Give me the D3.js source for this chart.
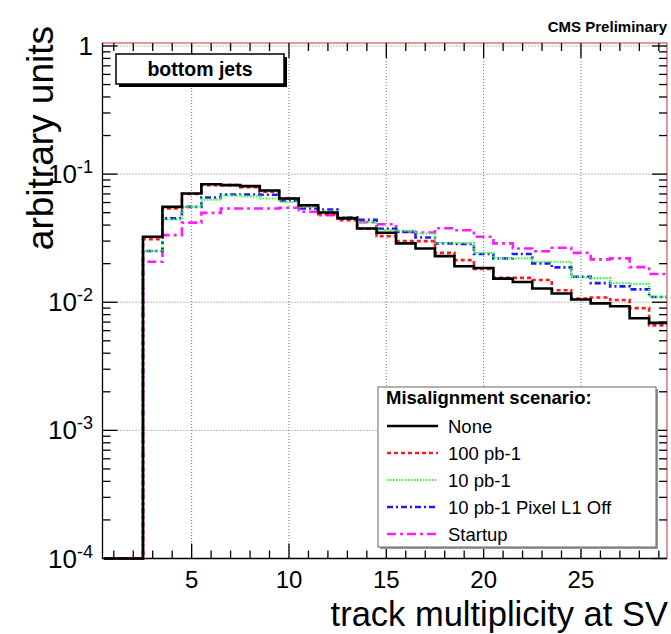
<!DOCTYPE html>
<html>
<head>
<meta charset="utf-8">
<script src="https://cdn.jsdelivr.net/npm/d3@7"></script>
<style>
  body { margin: 0; background: #fff; }
  svg { display: block; font-family: 'Liberation Sans', Arial, sans-serif; }
</style>
</head>
<body>
<svg id="chart" width="671" height="634"></svg>
<script>
// track multiplicity bins (centres), width 1
const bins = [1, 2, 3, 4, 5, 6, 7, 8, 9, 10, 11, 12, 13, 14, 15, 16, 17, 18, 19, 20, 21, 22, 23, 24, 25, 26, 27, 28, 29];

const none = [0, 0, 0.0324, 0.0555, 0.0706, 0.0834, 0.0820, 0.0806, 0.0745, 0.0645, 0.0572, 0.0501, 0.0451, 0.0376, 0.0349, 0.0288, 0.0263, 0.0229, 0.0191, 0.0185, 0.0153, 0.0144, 0.0128, 0.0117, 0.0105, 0.0098, 0.0093, 0.0075, 0.0069];
const pb100 = [0, 0, 0.0310, 0.0540, 0.0700, 0.0820, 0.0820, 0.0790, 0.0730, 0.0645, 0.0570, 0.0487, 0.0437, 0.0375, 0.0328, 0.0300, 0.0300, 0.0243, 0.0213, 0.0182, 0.0155, 0.0155, 0.0149, 0.0124, 0.0107, 0.0109, 0.0104, 0.0090, 0.0066];
const pb10 = [0, 0, 0.0251, 0.0443, 0.0555, 0.0633, 0.0683, 0.0671, 0.0645, 0.0607, 0.0555, 0.0509, 0.0459, 0.0422, 0.0366, 0.0360, 0.0344, 0.0290, 0.0290, 0.0243, 0.0220, 0.0220, 0.0207, 0.0207, 0.0157, 0.0154, 0.0141, 0.0139, 0.0110];
const pb10L1off = [0, 0, 0.0251, 0.0451, 0.0555, 0.0657, 0.0693, 0.0693, 0.0690, 0.0620, 0.0539, 0.0530, 0.0460, 0.0440, 0.0375, 0.0354, 0.0320, 0.0288, 0.0285, 0.0238, 0.0220, 0.0238, 0.0201, 0.0187, 0.0158, 0.0141, 0.0133, 0.0126, 0.0110];
const startup = [0, 0, 0.0207, 0.0334, 0.0418, 0.0498, 0.0539, 0.0539, 0.0539, 0.0547, 0.0509, 0.0478, 0.0459, 0.0422, 0.0406, 0.0354, 0.0350, 0.0378, 0.0365, 0.0324, 0.0288, 0.0263, 0.0250, 0.0266, 0.0243, 0.0216, 0.0220, 0.0188, 0.0166];

const xTicks = [5, 10, 15, 20, 25];
const yTicks = [1e-4, 1e-3, 1e-2, 1e-1, 1];
const yTickLabels = [['10', '-4'], ['10', '-3'], ['10', '-2'], ['10', '-1'], ['1', '']];

const series = [
  { name: 'None', values: none, color: '#000', width: 2.6, dash: null },
  { name: '100 pb-1', values: pb100, color: '#ff1a1a', width: 2.6, dash: '4,3' },
  { name: '10 pb-1', values: pb10, color: '#33ff33', width: 2.2, dash: '1.5,1.5' },
  { name: '10 pb-1 Pixel L1 Off', values: pb10L1off, color: '#1a1aff', width: 2.6, dash: '6,3,2,3' },
  { name: 'Startup', values: startup, color: '#ff1aff', width: 2.6, dash: '9,4,3,4' }
];

const style = {
  frameColor: '#d03030',
  gridColor: '#777',
  gridDash: '1,2',
  majorTick: 15,
  minorTick: 8
};

const svg = d3.select('#chart');
const frame = { left: 102.5, right: 667, top: 43, bottom: 558.5 };

const xScale = d3.scaleLinear().domain([0.42, 29.42]).range([frame.left, frame.right]);
const yScale = d3.scaleLog().domain([1e-4, 1.055]).range([frame.bottom, frame.top]);

svg.append('defs').append('clipPath').attr('id', 'clip')
  .append('rect')
  .attr('x', frame.left).attr('y', frame.top)
  .attr('width', frame.right - frame.left).attr('height', frame.bottom - frame.top + 3);

// grid
const grid = svg.append('g').attr('class', 'grid');
grid.selectAll('line.gx').data(xTicks).enter().append('line')
  .attr('x1', d => xScale(d)).attr('x2', d => xScale(d))
  .attr('y1', frame.top).attr('y2', frame.bottom)
  .attr('stroke', style.gridColor).attr('stroke-dasharray', style.gridDash).attr('stroke-width', 1);
grid.selectAll('line.gy').data(yTicks.slice(1)).enter().append('line')
  .attr('y1', d => yScale(d)).attr('y2', d => yScale(d))
  .attr('x1', frame.left).attr('x2', frame.right)
  .attr('stroke', style.gridColor).attr('stroke-dasharray', style.gridDash).attr('stroke-width', 1);

// frame
svg.append('rect')
  .attr('x', frame.left).attr('y', frame.top)
  .attr('width', frame.right - frame.left).attr('height', frame.bottom - frame.top)
  .attr('fill', 'none').attr('stroke', style.frameColor).attr('stroke-width', 1);

const axes = svg.append('g').attr('stroke', '#000').attr('stroke-width', 1.3);
axes.append('line').attr('x1', frame.left).attr('x2', frame.left).attr('y1', frame.top).attr('y2', frame.bottom);
axes.append('line').attr('x1', frame.left).attr('x2', frame.right).attr('y1', frame.bottom).attr('y2', frame.bottom);

// histograms
const ymin = yScale.domain()[0];
const stepLine = d3.line()
  .curve(d3.curveStepAfter)
  .x(d => xScale(d[0]))
  .y(d => yScale(Math.max(d[1], ymin)));

function histPoints(values) {
  const pts = bins.map((b, i) => [b - 0.5, values[i]]);
  pts.push([bins[bins.length - 1] + 0.5, values[values.length - 1]]);
  return pts;
}

const hists = svg.append('g').attr('clip-path', 'url(#clip)');
series.slice().reverse().forEach(s => {
  hists.append('path')
    .attr('d', stepLine(histPoints(s.values)))
    .attr('fill', 'none')
    .attr('stroke', s.color)
    .attr('stroke-width', s.width)
    .attr('stroke-dasharray', s.dash);
});

// x ticks, bottom and top
bins.forEach(v => {
  const len = xTicks.includes(v) ? style.majorTick : style.minorTick;
  const x = xScale(v);
  axes.append('line').attr('x1', x).attr('x2', x).attr('y1', frame.bottom).attr('y2', frame.bottom - len);
  axes.append('line').attr('x1', x).attr('x2', x).attr('y1', frame.top).attr('y2', frame.top + len);
});

// y ticks, left and right
const yMinor = [];
[1e-4, 1e-3, 1e-2, 1e-1].forEach(dec => {
  [2, 3, 4, 5, 6, 7, 8, 9].forEach(m => yMinor.push(dec * m));
});
yMinor.concat(yTicks).forEach(v => {
  const len = yTicks.includes(v) ? style.majorTick : style.minorTick;
  const y = yScale(v);
  axes.append('line').attr('x1', frame.left).attr('x2', frame.left + len).attr('y1', y).attr('y2', y);
  axes.append('line').attr('x1', frame.right).attr('x2', frame.right - len).attr('y1', y).attr('y2', y);
});
svg.node().appendChild(axes.node());

// tick labels
svg.append('g').selectAll('text').data(xTicks).enter().append('text')
  .attr('x', d => xScale(d)).attr('y', 588)
  .attr('text-anchor', 'middle').attr('font-size', 24).attr('fill', '#000')
  .text(d => d);

const yl = svg.append('g');
yTicks.forEach((v, i) => {
  const t = yl.append('text')
    .attr('x', 93).attr('y', yScale(v) + 9)
    .attr('text-anchor', 'end').attr('font-size', 26).attr('fill', '#000');
  t.append('tspan').text(yTickLabels[i][0]);
  if (yTickLabels[i][1]) {
    t.append('tspan').attr('dy', -10).attr('font-size', 18).text(yTickLabels[i][1]);
  }
});

// axis titles
svg.append('text')
  .attr('x', 668).attr('y', 626)
  .attr('text-anchor', 'end').attr('font-size', 34.5).attr('fill', '#000')
  .text('track multiplicity at SV');

svg.append('text')
  .attr('transform', 'translate(53, 26) rotate(-90)')
  .attr('text-anchor', 'end').attr('font-size', 37).attr('fill', '#000')
  .text('arbitrary units');

svg.append('text')
  .attr('x', 667).attr('y', 32)
  .attr('text-anchor', 'end').attr('font-size', 15).attr('font-weight', 'bold').attr('fill', '#000')
  .text('CMS Preliminary');

// "bottom jets" label box
const jb = svg.append('g');
jb.append('rect').attr('x', 119).attr('y', 57).attr('width', 168).attr('height', 30).attr('fill', '#000');
jb.append('rect').attr('x', 116).attr('y', 54).attr('width', 168).attr('height', 30)
  .attr('fill', '#fff').attr('stroke', '#000').attr('stroke-width', 1.5);
jb.append('text').attr('x', 200).attr('y', 76).attr('text-anchor', 'middle')
  .attr('font-size', 19.5).attr('font-weight', 'bold').attr('fill', '#000')
  .text('bottom jets');

// legend
const lg = svg.append('g');
lg.append('rect').attr('x', 380).attr('y', 389).attr('width', 278).attr('height', 160).attr('fill', '#999');
lg.append('rect').attr('x', 378).attr('y', 387).attr('width', 278).attr('height', 160)
  .attr('fill', '#fff').attr('stroke', '#666').attr('stroke-width', 1);
lg.append('text').attr('x', 386).attr('y', 404)
  .attr('font-size', 18.5).attr('font-weight', 'bold').attr('fill', '#000')
  .text('Misalignment scenario:');
series.forEach((s, i) => {
  const y = 426 + i * 27;
  lg.append('line').attr('x1', 387).attr('x2', 438).attr('y1', y).attr('y2', y)
    .attr('stroke', s.color).attr('stroke-width', s.width).attr('stroke-dasharray', s.dash);
  lg.append('text').attr('x', 448).attr('y', y + 6.5)
    .attr('font-size', 18.5).attr('fill', '#000')
    .text(s.name);
});
</script>
</body>
</html>
